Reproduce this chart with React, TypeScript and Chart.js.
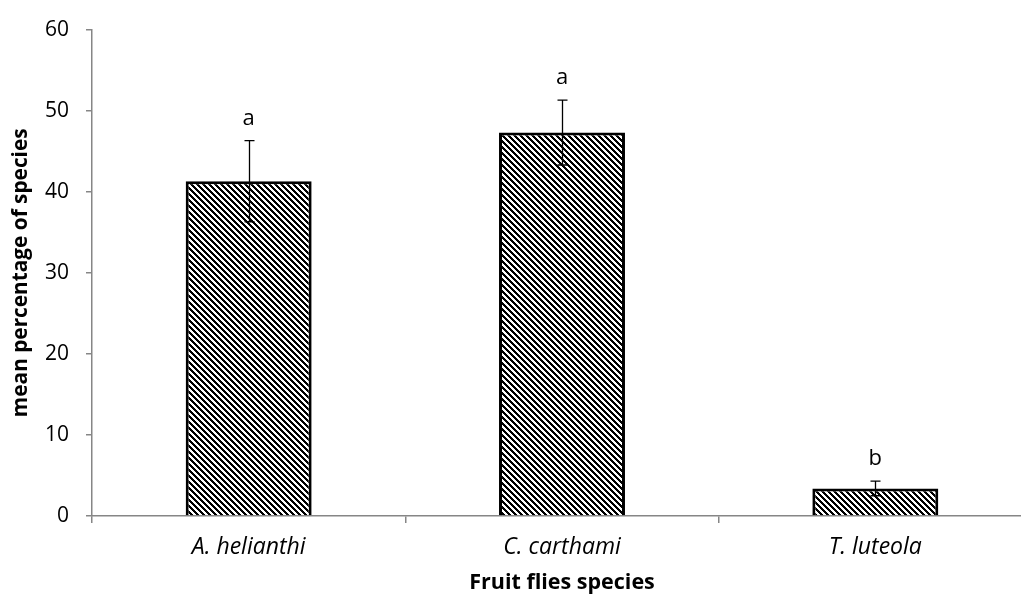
import React, { useEffect, useRef } from "react";
import { Chart, registerables } from "chart.js";

Chart.register(...registerables);

const categories = ["A. helianthi", "C. carthami", "T. luteola"];
const meanValues = [41.3, 47.3, 3.4];
const errorValues = [5.0, 4.0, 0.9];
const groupLetters = ["a", "a", "b"];
const yTicks = [0, 10, 20, 30, 40, 50, 60];

const FONT = "'Open Sans'";
const AXIS_GRAY = "#868686";

function makeHatch(): CanvasPattern | string {
  const size = 6;
  const c = document.createElement("canvas");
  c.width = size;
  c.height = size;
  const ctx = c.getContext("2d");
  if (!ctx) return "#777";
  const img = ctx.createImageData(size, size);
  for (let y = 0; y < size; y++) {
    for (let x = 0; x < size; x++) {
      const d = (((x - y) % size) + size) % size;
      const v = d < 3 ? 0 : 255;
      const i = (y * size + x) * 4;
      img.data[i] = v;
      img.data[i + 1] = v;
      img.data[i + 2] = v;
      img.data[i + 3] = 255;
    }
  }
  ctx.putImageData(img, 0, 0);
  return ctx.createPattern(c, "repeat") || "#777";
}

const errorBarPlugin = {
  id: "errorBarsAndLetters",
  afterDatasetsDraw(chart: any) {
    const ctx = chart.ctx as CanvasRenderingContext2D;
    const meta = chart.getDatasetMeta(0);
    const yScale = chart.scales.y;
    ctx.save();
    ctx.strokeStyle = "#000";
    ctx.lineWidth = 1.3;
    ctx.fillStyle = "#000";
    ctx.font = `22px ${FONT}`;
    ctx.textAlign = "center";
    ctx.textBaseline = "alphabetic";
    meta.data.forEach((bar: any, i: number) => {
      const x = Math.round(bar.x) + 0.5;
      const top = yScale.getPixelForValue(meanValues[i] + errorValues[i]);
      const bot = yScale.getPixelForValue(meanValues[i] - errorValues[i]);
      ctx.beginPath();
      ctx.moveTo(x, top);
      ctx.lineTo(x, bot);
      ctx.moveTo(x - 5, top);
      ctx.lineTo(x + 5, top);
      ctx.moveTo(x - 5, bot);
      ctx.lineTo(x + 5, bot);
      ctx.stroke();
      ctx.fillText(groupLetters[i], bar.x, top - 16);
    });
    ctx.restore();
  },
};

export default function App() {
  const canvasRef = useRef<HTMLCanvasElement | null>(null);

  useEffect(() => {
    const canvas = canvasRef.current;
    if (!canvas) return;
    const hatch = makeHatch();
    const chart = new Chart(canvas, {
      type: "bar",
      data: {
        labels: categories,
        datasets: [
          {
            data: meanValues,
            backgroundColor: hatch as any,
            borderColor: "#000",
            borderWidth: 3,
            borderSkipped: "start",
            barPercentage: 0.402,
            categoryPercentage: 1,
          },
        ],
      },
      options: {
        responsive: false,
        animation: false,
        devicePixelRatio: 1,
        layout: { padding: { top: 25, right: 8, left: 0, bottom: 0 } },
        plugins: {
          legend: { display: false },
          tooltip: { enabled: false },
        },
        scales: {
          x: {
            grid: {
              offset: true,
              drawOnChartArea: false,
              drawTicks: true,
              tickLength: 7,
              color: AXIS_GRAY,
              lineWidth: 1.5,
            },
            border: { color: AXIS_GRAY, width: 1.5 },
            ticks: {
              font: { family: FONT, size: 23, style: "italic" },
              color: "#000",
              padding: 11,
              maxRotation: 0,
            },
            title: {
              display: true,
              text: "Fruit flies species",
              font: { family: FONT, size: 21.5, weight: "bold" },
              color: "#000",
              padding: { top: 0, bottom: 0 },
            },
            afterFit: (s: any) => {
              s.height = 80;
            },
          },
          y: {
            min: yTicks[0],
            max: yTicks[yTicks.length - 1],
            ticks: {
              stepSize: yTicks[1] - yTicks[0],
              font: { family: FONT, size: 21 },
              color: "#000",
              padding: 17,
            },
            grid: {
              drawOnChartArea: false,
              drawTicks: true,
              tickLength: 6,
              color: AXIS_GRAY,
              lineWidth: 1.5,
            },
            border: { color: AXIS_GRAY, width: 1.5 },
            title: {
              display: true,
              text: "mean percentage of species",
              font: { family: FONT, size: 20.8, weight: "bold" },
              color: "#000",
              padding: { top: 9, bottom: 0 },
            },
            afterFit: (s: any) => {
              s.width = 92;
            },
          },
        },
      },
      plugins: [errorBarPlugin],
    });
    return () => chart.destroy();
  }, []);

  return (
    <div
      style={{
        position: "fixed",
        left: 0,
        top: 0,
        width: 1021,
        height: 596,
        overflow: "hidden",
        background: "#fff",
      }}
    >
      <canvas ref={canvasRef} width={1040} height={596} style={{ display: "block", width: 1040, height: 596 }} />
    </div>
  );
}
